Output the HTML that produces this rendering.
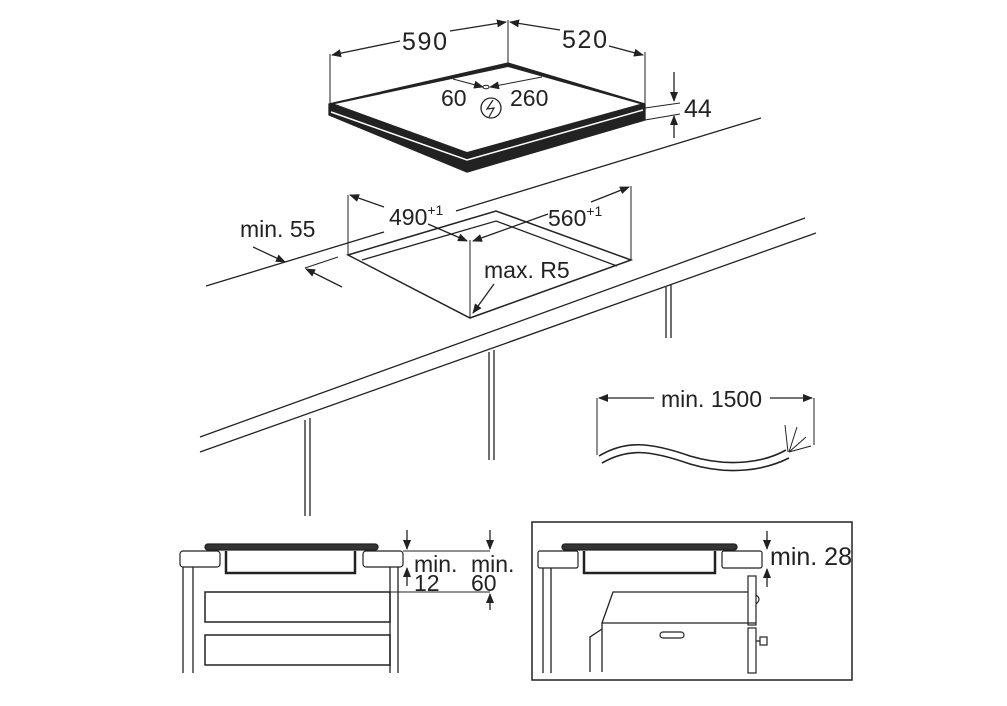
<!DOCTYPE html>
<html><head><meta charset="utf-8"><style>
html,body{margin:0;padding:0;background:#fff;}
svg{display:block;}
text{font-family:"Liberation Sans",sans-serif;fill:#222;}
</style></head><body>
<svg width="1007" height="706" viewBox="0 0 1007 706" xmlns="http://www.w3.org/2000/svg">
<defs>
<marker id="a" markerWidth="10" markerHeight="8" refX="9" refY="4" orient="auto" markerUnits="userSpaceOnUse">
<path d="M0,0 L10,4 L0,8 z" fill="#222"/></marker>
</defs>
<g stroke="#222" fill="none" stroke-width="1.3">
<text x="620" y="3" font-size="20" stroke="none" style="fill:#bbb">• • • • • • • • • • •</text>

<!-- hob -->
<polygon points="329,104 508,63 645,104 645,120 467,172 329,115" fill="#222" stroke="#222"/>
<polygon points="335,104 508,67 640,104 467,152" fill="#fff" stroke="none"/>
<path d="M331,112 L467,160 L643,110" stroke="#fff" stroke-width="1.5"/>
<line x1="330" y1="104" x2="330" y2="54" stroke-width="1"/>
<line x1="508" y1="63" x2="508" y2="20" stroke-width="1"/>
<line x1="645" y1="104" x2="645" y2="52" stroke-width="1"/>
<line x1="400" y1="41" x2="332" y2="55" marker-end="url(#a)"/>
<line x1="450" y1="31" x2="506" y2="22" marker-end="url(#a)"/>
<line x1="560" y1="30" x2="510" y2="22" marker-end="url(#a)"/>
<line x1="609" y1="46" x2="643" y2="55" marker-end="url(#a)"/>
<text x="402" y="50" font-size="25" stroke="none" textLength="45">590</text>
<text x="562" y="48" font-size="25" stroke="none" textLength="45">520</text>
<line x1="453" y1="79" x2="483" y2="87" stroke-width="1" marker-end="url(#a)"/>
<ellipse cx="486" cy="87" rx="3" ry="1.8" stroke-width="1"/>
<line x1="542" y1="77" x2="490" y2="87" stroke-width="1" marker-end="url(#a)"/>
<text x="441" y="106" font-size="23" stroke="none">60</text>
<text x="510" y="106" font-size="23" stroke="none">260</text>
<circle cx="491" cy="108" r="10" stroke-width="1.3"/>
<path d="M493,100 L487,109 L494,108 L489,117" stroke-width="1.2"/>
<line x1="645" y1="108" x2="680" y2="103" stroke-width="1"/>
<line x1="645" y1="120" x2="680" y2="114" stroke-width="1"/>
<line x1="674" y1="72" x2="674" y2="101" marker-end="url(#a)"/>
<line x1="674" y1="138" x2="674" y2="116" marker-end="url(#a)"/>
<text x="684" y="117" font-size="25" stroke="none">44</text>

<line x1="206" y1="286" x2="384" y2="232"/>
<line x1="456" y1="211" x2="761" y2="118"/>
<line x1="200" y1="437" x2="805" y2="218"/>
<line x1="200" y1="452" x2="816" y2="233"/>
<line x1="305" y1="420" x2="305" y2="516"/><line x1="310" y1="418" x2="310" y2="516"/>
<line x1="489" y1="352" x2="489" y2="460"/><line x1="494" y1="350" x2="494" y2="460"/>
<line x1="666" y1="287" x2="666" y2="338"/><line x1="671" y1="285" x2="671" y2="338"/>

<polygon points="348,255 496,211 631,260 470,318" stroke-width="1.5"/>
<polyline points="362,260 496,221 617,266" stroke-width="1.3"/>
<line x1="348" y1="255" x2="348" y2="195" stroke-width="1"/>
<line x1="631" y1="260" x2="631" y2="186" stroke-width="1"/>
<line x1="470" y1="318" x2="470" y2="240" stroke-width="1"/>
<line x1="384" y1="207" x2="350" y2="195" marker-end="url(#a)"/>
<line x1="428" y1="224" x2="467" y2="241" marker-end="url(#a)"/>
<line x1="548" y1="214" x2="473" y2="241" marker-end="url(#a)"/>
<line x1="591" y1="202" x2="629" y2="187" marker-end="url(#a)"/>
<text x="389" y="225" font-size="23" stroke="none">490<tspan font-size="14" dy="-10">+1</tspan></text>
<text x="548" y="226" font-size="23" stroke="none">560<tspan font-size="14" dy="-10">+1</tspan></text>
<text x="484" y="278" font-size="23" stroke="none">max. R5</text>
<line x1="494" y1="284" x2="473" y2="313" marker-end="url(#a)"/>
<text x="240" y="237" font-size="23" stroke="none">min. 55</text>
<line x1="253" y1="247" x2="285" y2="262" marker-end="url(#a)"/>
<line x1="342" y1="287" x2="306" y2="269" marker-end="url(#a)"/>
<line x1="305" y1="268" x2="338" y2="257" stroke-width="1"/>

<line x1="597" y1="398" x2="597" y2="455" stroke-width="1"/>
<line x1="814" y1="398" x2="814" y2="445" stroke-width="1"/>
<line x1="654" y1="398" x2="599" y2="398" marker-end="url(#a)"/>
<line x1="770" y1="398" x2="812" y2="398" marker-end="url(#a)"/>
<text x="661" y="407" font-size="23" stroke="none">min. 1500</text>
<path d="M599,456 C625,440 650,442 690,456 C730,468 765,462 786,450" stroke-width="1.6"/>
<path d="M602,463 C628,448 650,450 690,464 C730,476 765,470 789,458" stroke-width="1.6"/>
<path d="M788,452 L785,425 M789,452 L797,427 M789,452 L806,437 M789,452 L811,446" stroke-width="1"/>

<rect x="205" y="544" width="173" height="6" rx="3" fill="#333"/>
<rect x="180" y="551" width="40" height="16" rx="3" stroke-width="1.2"/>
<rect x="363" y="551" width="40" height="16" rx="3" stroke-width="1.2"/>
<path d="M226,551 L226,573 L355,573 L355,551" stroke-width="2.5"/>
<line x1="183" y1="567" x2="183" y2="673"/><line x1="193" y1="567" x2="193" y2="673"/>
<line x1="390" y1="567" x2="390" y2="673"/><line x1="398" y1="567" x2="398" y2="673"/>
<rect x="205" y="592" width="185" height="30" stroke-width="1.5"/>
<rect x="205" y="635" width="185" height="30" stroke-width="1.5"/>
<line x1="403" y1="551" x2="490" y2="551" stroke-width="1"/>
<line x1="390" y1="592" x2="490" y2="592" stroke-width="1"/>
<line x1="407" y1="530" x2="407" y2="549" marker-end="url(#a)"/>
<line x1="407" y1="586" x2="407" y2="568" marker-end="url(#a)"/>
<line x1="490" y1="530" x2="490" y2="549" marker-end="url(#a)"/>
<line x1="490" y1="610" x2="490" y2="594" marker-end="url(#a)"/>
<text x="414" y="572" font-size="23" stroke="none">min.</text>
<text x="414" y="591" font-size="23" stroke="none">12</text>
<text x="471" y="572" font-size="23" stroke="none">min.</text>
<text x="471" y="591" font-size="23" stroke="none">60</text>

<rect x="532" y="522" width="320" height="158" stroke-width="1.5"/>
<rect x="562" y="544" width="175" height="6" rx="3" fill="#333"/>
<rect x="538" y="551" width="40" height="17" rx="2" stroke-width="1.2"/>
<rect x="722" y="551" width="40" height="17" rx="2" stroke-width="1.2"/>
<path d="M584,551 L584,573 L715,573 L715,551" stroke-width="2.5"/>
<line x1="543" y1="568" x2="543" y2="673"/><line x1="551" y1="568" x2="551" y2="673"/>
<path d="M602,672 L602,623 L613,592 L748,592"/>
<line x1="602" y1="623" x2="756" y2="623"/>
<path d="M590,672 L590,637 L602,629"/>
<rect x="660" y="632" width="24" height="6" rx="3" stroke-width="1.2"/>
<rect x="748" y="576" width="8" height="49" stroke-width="1.2"/>
<rect x="748" y="628" width="8" height="45" stroke-width="1.2"/>
<path d="M756,595 Q762,599 756,604" stroke-width="1.2"/>
<rect x="760" y="637" width="7" height="8" stroke-width="1.2"/>
<line x1="756" y1="641" x2="760" y2="641"/>
<line x1="767" y1="531" x2="767" y2="549" marker-end="url(#a)"/>
<line x1="767" y1="587" x2="767" y2="569" marker-end="url(#a)"/>
<text x="770" y="565" font-size="25" stroke="none">min. 28</text>
</g>
</svg>
</body></html>
